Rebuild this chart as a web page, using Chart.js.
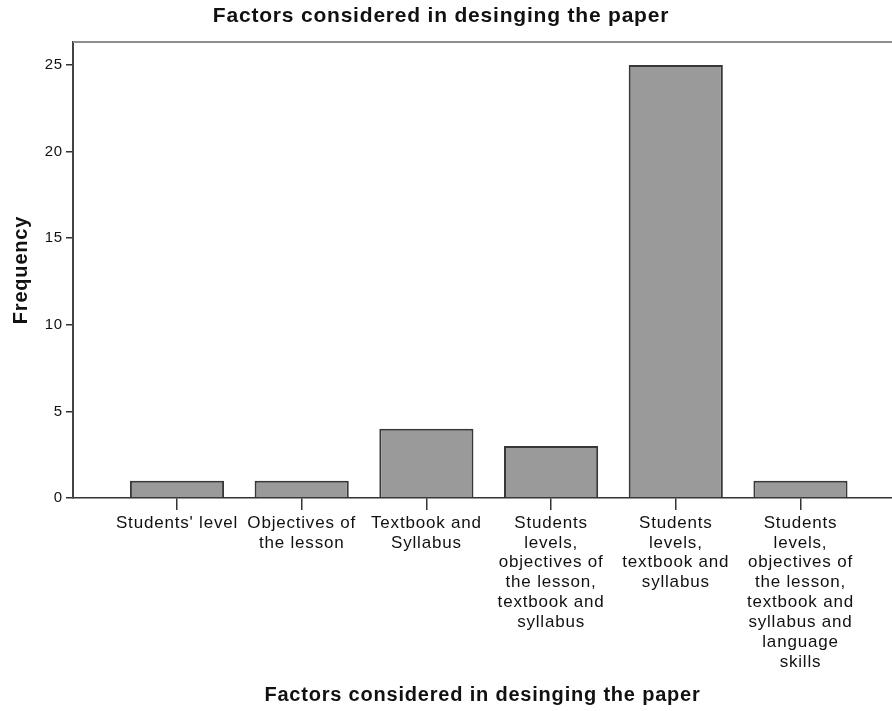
<!DOCTYPE html>
<html>
<head>
<meta charset="utf-8">
<script src="https://cdn.jsdelivr.net/npm/chart.js@4.4.1/dist/chart.umd.min.js"></script>
<style>
  html,body{margin:0;padding:0;background:#fff;}
  #wrap{width:892px;height:711px;position:relative;}
</style>
</head>
<body>
<div id="wrap"><canvas id="c"></canvas></div>
<script>
const TITLE = 'Factors considered in desinging the paper';
const X_TITLE = 'Factors considered in desinging the paper';
const Y_TITLE = 'Frequency';
const categories = [
  ["Students' level"],
  ['Objectives of', 'the lesson'],
  ['Textbook and', 'Syllabus'],
  ['Students', 'levels,', 'objectives of', 'the lesson,', 'textbook and', 'syllabus'],
  ['Students', 'levels,', 'textbook and', 'syllabus'],
  ['Students', 'levels,', 'objectives of', 'the lesson,', 'textbook and', 'syllabus and', 'language', 'skills']
];
const frequency = [1, 1, 4, 3, 25, 1];
const yTicks = [0, 5, 10, 15, 20, 25];

const FONT = "'Liberation Sans', Arial, sans-serif";

const frame = {
  id: 'frame',
  beforeDraw(chart){
    chart.ctx.letterSpacing = '0.8px';
  },
  afterDraw(chart){
    const {ctx, chartArea:a} = chart;
    ctx.save();
    // top frame line
    ctx.strokeStyle = '#8e8e8e';
    ctx.lineWidth = 2;
    ctx.beginPath(); ctx.moveTo(a.left, a.top); ctx.lineTo(a.right, a.top); ctx.stroke();
    ctx.fillStyle = '#111';
    ctx.textAlign = 'center';
    ctx.textBaseline = 'middle';
    ctx.letterSpacing = '0.8px';
    ctx.font = 'bold 21px ' + FONT;
    ctx.fillText(TITLE, 441, 16);
    ctx.font = 'bold 20px ' + FONT;
    ctx.fillText(X_TITLE, (a.left + a.right) / 2, 695);
    ctx.translate(21, (a.top + a.bottom) / 2);
    ctx.rotate(-Math.PI / 2);
    ctx.fillText(Y_TITLE, 0, 0);
    ctx.restore();
  }
};

new Chart(document.getElementById('c'), {
  type: 'bar',
  data: {
    datasets: [{
      data: frequency.map((v, i) => ({x: i + 1, y: v})),
      backgroundColor: '#9a9a9a',
      borderColor: '#383838',
      borderWidth: 2,
      barPercentage: 0.755,
      categoryPercentage: 1
    }]
  },
  options: {
    responsive: true,
    maintainAspectRatio: false,
    animation: false,
    layout: {padding: {top: 42, right: 0, bottom: 0, left: 0}},
    plugins: {legend: {display: false}, tooltip: {enabled: false}},
    scales: {
      x: {
        type: 'linear',
        offset: false,
        min: 0.166,
        max: 6.734,
        afterBuildTicks: s => { s.ticks = categories.map((c, i) => ({value: i + 1})); },
        afterFit: s => { s.height = 213; },
        ticks: {
          callback: (v) => categories[v - 1] || '',
          color: '#111',
          font: {family: FONT, size: 17, lineHeight: 1.17},
          padding: 3,
          maxRotation: 0,
          autoSkip: false
        },
        grid: {offset: false, drawOnChartArea: false, color: '#333', tickLength: 12, lineWidth: 1.5},
        border: {color: '#333', width: 1.5}
      },
      y: {
        min: 0,
        max: 26.33,
        afterBuildTicks: s => { s.ticks = yTicks.map(v => ({value: v})); },
        afterFit: s => { s.width = 73; },
        ticks: {
          color: '#111',
          font: {family: FONT, size: 15},
          padding: 3
        },
        grid: {drawOnChartArea: false, color: '#333', tickLength: 7, lineWidth: 1.5},
        border: {color: '#444', width: 2}
      }
    }
  },
  plugins: [frame]
});
</script>
</body>
</html>
